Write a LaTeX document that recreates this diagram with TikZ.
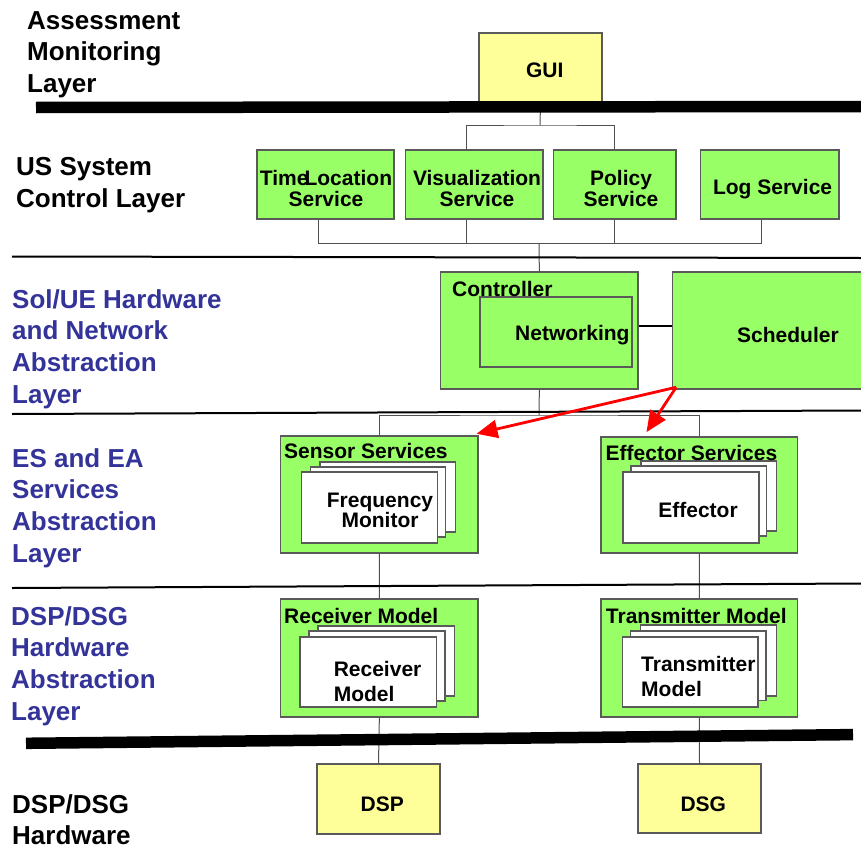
\documentclass[tikz,border=0pt]{standalone}
\usepackage{fontspec}
\setmainfont{Liberation Sans}
\usetikzlibrary{arrows.meta}

\definecolor{boxgreen}{HTML}{99FF66}
\definecolor{boxyellow}{HTML}{FFFF99}
\definecolor{layerblue}{HTML}{333399}
\definecolor{edgegray}{HTML}{5A5A5A}
\definecolor{wiregray}{HTML}{505050}

\tikzset{
  boxsize/.style 2 args={minimum width=#1pt, minimum height=#2pt},
  greenbox/.style={rectangle, draw=edgegray, line width=1.1pt, fill=boxgreen, inner sep=0pt},
  yellowbox/.style={rectangle, draw=edgegray, line width=1.1pt, fill=boxyellow, inner sep=0pt},
  card/.style={draw=edgegray, line width=1.1pt, fill=white},
  boxtext/.style={font=\fontsize{21}{21}\selectfont\bfseries, inner sep=0pt, align=center},
  layerlabel/.style={font=\fontsize{26}{31.8}\selectfont\bfseries, align=left, anchor=north west, inner sep=0pt},
  wire/.style={draw=wiregray, line width=1pt},
  link/.style={draw=black, line width=2pt},
  divider/.style={draw=black, line width=2pt},
  bar/.style={draw=black, line width=11.5pt},
  ctrlarrow/.style={draw=red, line width=2.8pt, -{Triangle[length=21pt,width=18pt]}},
}

\begin{document}
\begin{tikzpicture}[x=1pt,y=-1pt]
\useasboundingbox (0,0) rectangle (861,851);

% ---------- layer names ----------
\node[layerlabel] (lblAssess) at (27,11) {Assessment\\Monitoring\\Layer};
\node[layerlabel] (lblControl) at (16,157) {US System\\Control Layer};
\node[layerlabel, text=layerblue] (lblNet) at (12,289) {Sol/UE Hardware\\and Network\\Abstraction\\Layer};
\node[layerlabel, text=layerblue] (lblServ) at (12,448) {ES and EA\\Services\\Abstraction\\Layer};
\node[layerlabel, text=layerblue] (lblHwAbs) at (11,606) {DSP/DSG\\Hardware\\Abstraction\\Layer};
\node[layerlabel] (lblHw) at (12,794) {DSP/DSG\\Hardware};

% ---------- boxes ----------
\node[yellowbox, boxsize={123}{70}] (gui) at (540.5,68) {};

\node[greenbox, boxsize={137}{69}] (tl)  at (325.5,184.5) {};
\node[greenbox, boxsize={137.5}{69}] (vis) at (474.25,184.5) {};
\node[greenbox, boxsize={122.5}{69}] (pol) at (614.75,184.5) {};
\node[greenbox, boxsize={138.5}{69}] (log) at (769.75,184.5) {};

\node[greenbox, boxsize={197.3}{117}] (ctrl) at (539.35,330.5) {};
\node[greenbox, boxsize={152}{70}] (net) at (556,332) {};
\node[greenbox, boxsize={232.3}{117}] (sched) at (788.85,330.5) {};

\node[greenbox, boxsize={197.5}{117}] (sens) at (379.25,494.5) {};
\node[greenbox, boxsize={196.7}{116}] (eff)  at (699.35,495) {};
\node[greenbox, boxsize={197.3}{118}] (rcv)  at (379.35,658) {};
\node[greenbox, boxsize={196.5}{118}] (trn)  at (699.25,658) {};

\node[yellowbox, boxsize={123}{70}] (dsp) at (378.5,799) {};
\node[yellowbox, boxsize={123}{69}] (dsg) at (699.5,798.5) {};

% ---------- stacked component cards ----------
\draw[card] (320,462) rectangle (455.5,532);
\draw[card] (310.7,467) rectangle (445.6,537);
\draw[card] (301.7,472) rectangle (437.7,543);

\draw[card] (641,461) rectangle (776.6,531);
\draw[card] (631,466) rectangle (766.8,536);
\draw[card] (623,472) rectangle (759,543);

\draw[card] (318,626) rectangle (454.6,696);
\draw[card] (309,631) rectangle (445,701);
\draw[card] (300,637) rectangle (436.8,707);

\draw[card] (640.7,625) rectangle (776.4,696);
\draw[card] (630.7,631) rectangle (766,700.7);
\draw[card] (622.5,637) rectangle (758,707);

% ---------- texts ----------
\node[boxtext, anchor=base] (tGui) at (544.7,77.7) {GUI};
\node[boxtext] (tTl)  at (326,188) {Time\kern-4pt Location\\Service};
\node[boxtext] (tVis) at (477,188) {Visualization\\Service};
\node[boxtext] (tPol) at (621,188) {Policy\\Service};
\node[boxtext] (tLog) at (772.6,189.5) {Log Service};

\node[boxtext, anchor=base west] (tNet)   at (515,340) {Networking};
\node[boxtext, anchor=base west] (tCtrl)  at (452,296) {Controller};
\node[boxtext, anchor=base west] (tSched) at (737,342) {Scheduler};

\node[boxtext, anchor=base west] (tSens) at (284,458) {Sensor Services};
\node[boxtext, anchor=base west] (tEff)  at (605.5,460) {Effector Services};
\node[boxtext, font=\fontsize{21}{20.5}\selectfont\bfseries] (tFreq) at (380,510.4) {Frequency\\Monitor};
\node[boxtext, anchor=base] (tEffc) at (698,517.5) {Effector};

\node[boxtext, anchor=base west] (tRcvT) at (284,623) {Receiver Model};
\node[boxtext, anchor=base west] (tTrnT) at (605.7,623) {Transmitter Model};
\node[boxtext, align=left, anchor=west, font=\fontsize{21}{25}\selectfont\bfseries] (tRcv) at (333.6,681.9) {Receiver\\Model};
\node[boxtext, align=left, anchor=west, font=\fontsize{21}{25}\selectfont\bfseries] (tTrn) at (641,676.9) {Transmitter\\Model};

\node[boxtext, anchor=base] (tDsp) at (382.3,811) {DSP};
\node[boxtext, anchor=base] (tDsg) at (703.3,811) {DSG};

% ---------- connectors ----------
\coordinate (jGui) at (540,125);
\draw[wire] (gui.south) -- (jGui);
\draw[wire] ([xshift=-8pt]vis.north) |- (jGui) -| (pol.north);

\coordinate (jCtl) at (539,243);
\draw[wire] ([xshift=-7pt]tl.south) -- ++(0,24) -| ([xshift=-8pt]log.south);
\draw[wire] ([xshift=-8pt]vis.south) -- ++(0,24);
\draw[wire] (pol.south) -- ++(0,24);
\draw[wire] (jCtl) -- (ctrl.north);

\coordinate (jSvc) at (539,415);
\draw[wire] (ctrl.south) -- (jSvc);
\draw[wire] (sens.north) |- (jSvc) -| (eff.north);

\draw[wire] (sens.south) -- (rcv.north);
\draw[wire] (eff.south) -- (trn.north);
\draw[wire] (rcv.south) -- (dsp.north);
\draw[wire] (trn.south) -- (dsg.north);

\draw[link] ([yshift=4.5pt]ctrl.east) -- ([yshift=4.5pt]sched.west);

% ---------- layer dividers ----------
\draw[bar] (36,107.5) -- (861,106.5);
\draw[divider] (12,256.5) -- (861,258);
\draw[divider] (12,414) -- (861,410.5);
\draw[divider] (12,588) -- (861,583.5);
\draw[bar] (26,743.3) -- (853,734.6);

% ---------- scheduling arrows ----------
\coordinate (src) at ([xshift=4pt,yshift=2.3pt]sched.south west);
\draw[ctrlarrow] (src) -- ([xshift=-2pt,yshift=1.7pt]sens.north east);
\draw[ctrlarrow] (src) -- ([xshift=46pt,yshift=4.3pt]eff.north west);

\end{tikzpicture}
\end{document}
